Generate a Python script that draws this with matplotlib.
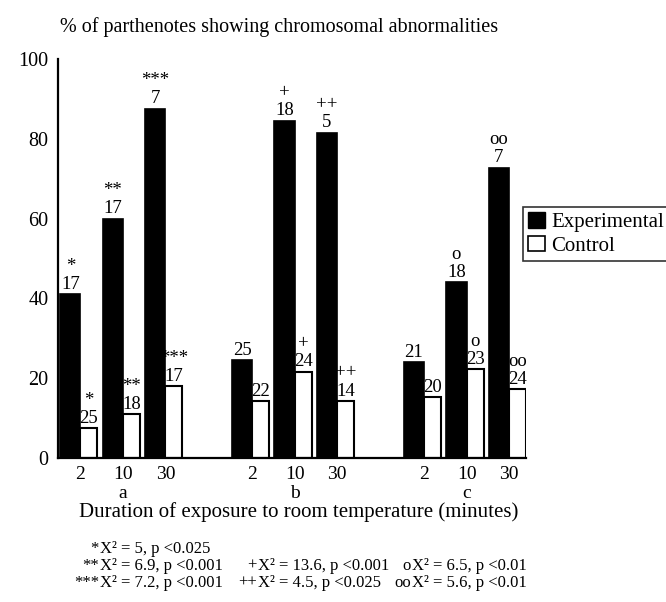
"""Chromosomal abnormalities in parthenotes vs exposure time"""

import matplotlib
matplotlib.use("Agg")
from matplotlib import pyplot as plt
from matplotlib.patches import Patch

plt.rcParams["font.family"] = ["Liberation Serif", "DejaVu Serif"]

groups = ["a", "b", "c"]
durations = ["2", "10", "30"]

exp_values = [41, 60, 87.5, 24.5, 84.5, 81.5, 24, 44, 72.8]
ctrl_values = [7.5, 11, 18, 14.3, 21.6, 14.3, 15.3, 22.3, 17.3]

exp_n = ["17", "17", "7", "25", "18", "5", "21", "18", "7"]
ctrl_n = ["25", "18", "17", "22", "24", "14", "20", "23", "24"]
signif = ["*", "**", "***", "", "+", "++", "", "o", "oo"]

notes_sym = [["*", "", ""], ["**", "+", "o"], ["***", "++", "oo"]]
notes_text = [
    ["X² = 5, p <0.025", "", ""],
    ["X² = 6.9, p <0.001", "X² = 13.6, p <0.001", "X² = 6.5, p <0.01"],
    ["X² = 7.2, p <0.001", "X² = 4.5, p <0.025", "X² = 5.6, p <0.01"],
]

W, H = 666, 602
fig = plt.figure(figsize=(W / 100, H / 100), dpi=100)
ax = fig.add_axes([58 / W, 1 - 458 / H, 468 / W, 399 / H])

exp_w = 0.48
ctrl_w = 0.40
group_gap = 4.05

starts = []
for g in range(len(groups)):
    for k in range(len(durations)):
        starts.append(g * group_gap + k)

exp_x = [s + exp_w / 2 for s in starts]
ctrl_x = [s + exp_w + ctrl_w / 2 for s in starts]

ax.bar(exp_x, exp_values, width=exp_w, color="black", edgecolor="black",
       linewidth=1.2)
ax.bar(ctrl_x, ctrl_values, width=ctrl_w, color="white", edgecolor="black",
       linewidth=1.5)

for xs, vals, ns in [(exp_x, exp_values, exp_n), (ctrl_x, ctrl_values, ctrl_n)]:
    for x, v, n, s in zip(xs, vals, ns, signif):
        ax.annotate(n, (x, v), xytext=(0, 1), textcoords="offset points",
                    ha="center", va="bottom", fontsize=13.5)
        if s:
            ax.annotate(s, (x, v), xytext=(0, 14), textcoords="offset points",
                        ha="center", va="bottom", fontsize=13.5)

ax.set_xlim(-0.05, starts[-1] + exp_w + ctrl_w)
ax.set_ylim(0, 100)
ax.set_yticks([0, 20, 40, 60, 80, 100])
ax.set_xticks([s + exp_w for s in starts])
ax.set_xticklabels(durations * len(groups))
ax.tick_params(axis="y", length=0, pad=7, labelsize=14.5)
ax.tick_params(axis="x", length=0, pad=6, labelsize=14)
for side in ["top", "right"]:
    ax.spines[side].set_visible(False)
for side in ["left", "bottom"]:
    ax.spines[side].set_linewidth(1.6)

for g, name in enumerate(groups):
    ax.text(g * group_gap + 1 + exp_w, -36 / 399, name,
            transform=ax.get_xaxis_transform(),
            ha="center", va="center", fontsize=14)

fig.text(299 / W, 1 - 512 / H, "Duration of exposure to room temperature (minutes)",
         ha="center", va="center", fontsize=15)
fig.text(60 / W, 1 - 27 / H, "% of parthenotes showing chromosomal abnormalities",
         ha="left", va="center", fontsize=14.5)

# footnotes with chi-square values
col_x = [100, 258, 412]
row_y = [549, 566, 583]
for r in range(3):
    for c in range(3):
        if not notes_text[r][c]:
            continue
        fig.text((col_x[c] - 1) / W, 1 - row_y[r] / H, notes_sym[r][c],
                 ha="right", va="center", fontsize=12)
        fig.text(col_x[c] / W, 1 - row_y[r] / H, notes_text[r][c],
                 ha="left", va="center", fontsize=12)

handles = [Patch(facecolor="black", edgecolor="black"),
           Patch(facecolor="white", edgecolor="black", linewidth=1.2)]
leg = fig.legend(handles, ["Experimental", "Control"], loc="upper left",
                 bbox_to_anchor=(523 / W, 1 - 207 / H), fontsize=15,
                 frameon=True, fancybox=False, edgecolor="black",
                 handlelength=0.8, handleheight=0.8, handletextpad=0.3,
                 borderpad=0.25, labelspacing=0.15, borderaxespad=0)
leg.get_frame().set_linewidth(1.2)

plt.savefig("out.png", dpi=100)
